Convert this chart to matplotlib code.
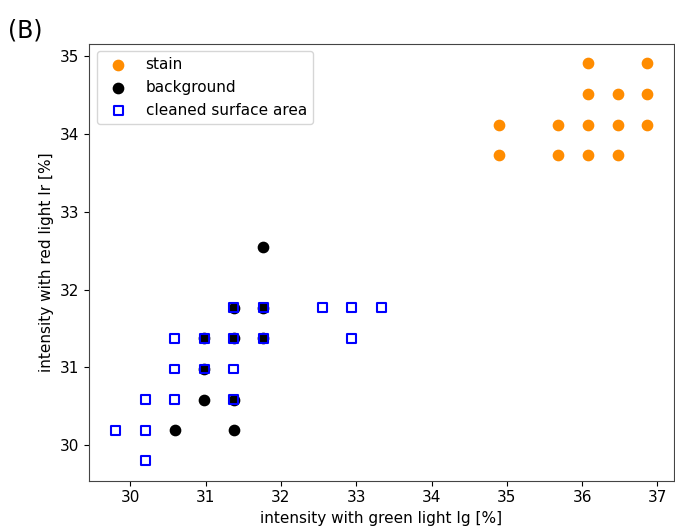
import numpy as np
import matplotlib.pyplot as plt

# intensities are 8-bit levels expressed in percent (k/255*100)
stain_x = [36.078, 36.863, 36.078, 36.471, 36.863, 34.902, 35.686, 36.078, 36.471, 36.863,
           34.902, 35.686, 36.078, 36.471]
stain_y = [34.902, 34.902, 34.510, 34.510, 34.510, 34.118, 34.118, 34.118, 34.118, 34.118,
           33.725, 33.725, 33.725, 33.725]

background_x = [31.765, 31.373, 31.765, 30.980, 31.373, 31.765, 30.980, 30.980, 31.373,
                30.588, 31.373]
background_y = [32.549, 31.765, 31.765, 31.373, 31.373, 31.373, 30.980, 30.588, 30.588,
                30.196, 30.196]

cleaned_x = [31.373, 31.765, 32.549, 32.941, 33.333,
             30.588, 30.980, 31.373, 31.765, 32.941,
             30.588, 30.980, 31.373,
             30.196, 30.588, 31.373,
             29.804, 30.196,
             30.196]
cleaned_y = [31.765, 31.765, 31.765, 31.765, 31.765,
             31.373, 31.373, 31.373, 31.373, 31.373,
             30.980, 30.980, 30.980,
             30.588, 30.588, 30.588,
             30.196, 30.196,
             29.804]

plt.rcParams["font.size"] = 11
fig = plt.figure(figsize=(6.75, 5.31), dpi=100)
ax = fig.add_axes([0.132, 0.095, 0.866, 0.823])

ax.scatter(stain_x, stain_y, s=55, color="darkorange", label="stain")
ax.scatter(background_x, background_y, s=55, color="black", label="background")
ax.scatter(cleaned_x, cleaned_y, s=40, marker="s", facecolors="none", edgecolors="blue",
           linewidths=1.5, label="cleaned surface area")

ax.set_xlabel("intensity with green light Ig [%]")
ax.set_ylabel("intensity with red light Ir [%]")
ax.legend(loc="upper left")

for sp in ax.spines.values():
    sp.set_color("#444444")

fig.text(0.012, 0.93, "(B)", fontsize=17)

plt.savefig("out.png", dpi=100)
